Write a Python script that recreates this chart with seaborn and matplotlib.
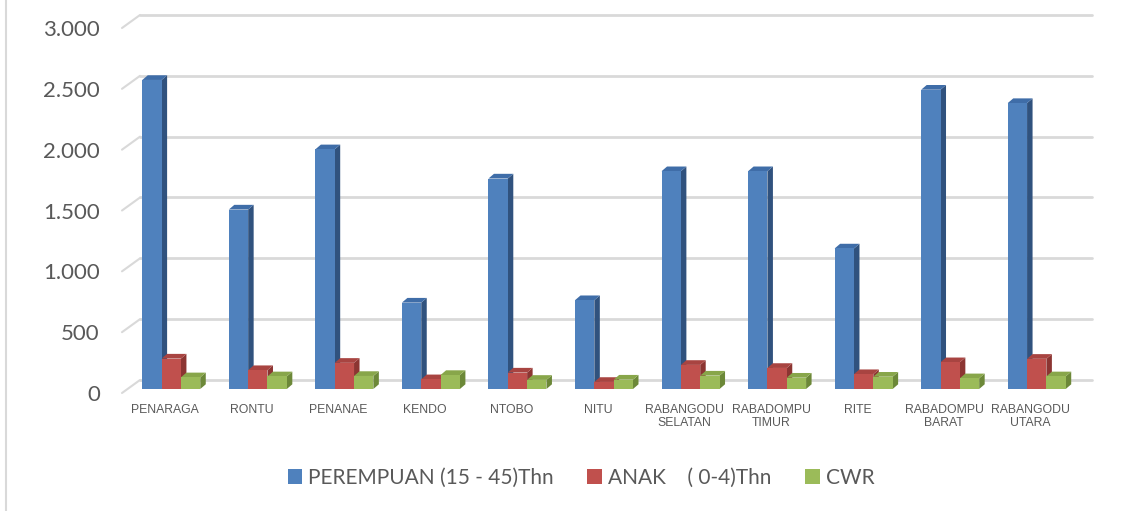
import numpy as np
import pandas as pd
import matplotlib
matplotlib.use("Agg")
import matplotlib.pyplot as plt
import seaborn as sns
from matplotlib.patches import Polygon
from matplotlib.lines import Line2D

# ---------------- data ----------------
categories = ["PENARAGA", "RONTU", "PENANAE", "KENDO", "NTOBO", "NITU",
              "RABANGODU\nSELATAN", "RABADOMPU\nTIMUR", "RITE",
              "RABADOMPU\nBARAT", "RABANGODU\nUTARA"]
perempuan = [2540, 1475, 1970, 710, 1730, 730, 1790, 1790, 1155, 2460, 2350]
anak = [250, 155, 215, 80, 135, 58, 198, 173, 122, 220, 248]
cwr = [96, 104, 107, 115, 75, 77, 110, 93, 101, 88, 104]
series_names = ["PEREMPUAN (15 - 45)Thn", "ANAK    ( 0-4)Thn", "CWR"]
y_ticks = [0, 500, 1000, 1500, 2000, 2500, 3000]

front_colors = ["#4F81BD", "#C0504D", "#9BBB59"]
side_colors = ["#30527E", "#8C3532", "#6C8838"]
top_colors = ["#3F6DA8", "#A84441", "#88A64A"]

df = pd.DataFrame({
    "cat": categories * 3,
    "val": perempuan + anak + cwr,
    "series": [series_names[0]] * len(categories)
              + [series_names[1]] * len(categories)
              + [series_names[2]] * len(categories),
})

sns.set_style("white")
plt.rcParams["font.family"] = ["Lato", "DejaVu Sans"]

W, H = 1136, 511
fig = plt.figure(figsize=(W / 100, H / 100), dpi=100)
fig.patch.set_facecolor("white")
ax_left, ax_right, ax_bottom, ax_top = 122, 1074, 393, 28
ax = fig.add_axes([ax_left / W, 1 - ax_bottom / H,
                   (ax_right - ax_left) / W, (ax_bottom - ax_top) / H])

sns.barplot(data=df, x="cat", y="val", hue="series", order=categories,
            hue_order=series_names, palette=front_colors, saturation=1,
            width=0.67, ax=ax, linewidth=0, legend=True)
ax.set_xlim(-0.5, len(categories) - 0.5)
ax.set_ylim(0, 3000)
ax.set_xlabel("")
ax.set_ylabel("")
for s in ax.spines.values():
    s.set_visible(False)
ax.grid(False)

# pixel -> data conversions
p0 = ax.transData.transform((0, 0))
sx = ax.transData.transform((1, 0))[0] - p0[0]
sy = (ax.transData.transform((0, 1000))[1] - p0[1]) / 1000.0

# back-plane gridlines (3D look)
back_dx, back_dy = 18 / sx, 13 / sy
xl, xr = -0.5, len(categories) - 0.5
grid_col = "#D9D9D9"
for yv in y_ticks:
    ax.add_line(Line2D([xl + back_dx, xr + back_dx], [yv + back_dy, yv + back_dy],
                       color=grid_col, lw=2, zorder=0.5, clip_on=False))
    ax.add_line(Line2D([xl, xl + back_dx], [yv, yv + back_dy],
                       color=grid_col, lw=1.5, zorder=0.5, clip_on=False))

# 3D bars
off_dx, off_dy = 6 / sx, 4 / sy
ddx, ddy = 5.5 / sx, 4.7 / sy
bars = []
for k, cont in enumerate(ax.containers[:3]):
    for p in cont.patches:
        bars.append((p.get_x(), k, p))
bars.sort(key=lambda t: t[0])
for i, (_, k, p) in enumerate(bars):
    x0 = p.get_x() + off_dx
    w = p.get_width()
    h = p.get_height()
    yb = off_dy
    p.set_x(x0)
    p.set_y(yb)
    p.set_clip_on(False)
    z = 2 + i * 0.01
    p.set_zorder(z + 0.005)
    x1 = x0 + w
    side = Polygon([(x1, yb), (x1 + ddx, yb + ddy), (x1 + ddx, yb + h + ddy), (x1, yb + h)],
                   closed=True, facecolor=side_colors[k], edgecolor="none",
                   zorder=z, clip_on=False)
    top = Polygon([(x0, yb + h), (x1, yb + h), (x1 + ddx, yb + h + ddy), (x0 + ddx, yb + h + ddy)],
                  closed=True, facecolor=top_colors[k], edgecolor="none",
                  zorder=z, clip_on=False)
    ax.add_patch(side)
    ax.add_patch(top)

# ticks
ax.set_yticks(y_ticks)
ax.set_yticklabels([f"{v:,.0f}".replace(",", ".") for v in y_ticks])
ax.tick_params(axis="y", length=0, pad=16, labelsize=16, labelcolor="#595959")
ax.tick_params(axis="x", length=0, pad=8, labelcolor="#595959")
for lab in ax.get_xticklabels():
    lab.set_fontfamily(["Liberation Sans", "DejaVu Sans"])
    lab.set_fontsize(8.8)
    lab.set_linespacing(1.15)

# legend
handles, labels = ax.get_legend_handles_labels()
if ax.get_legend() is not None:
    ax.get_legend().remove()
fig.legend(handles, labels, loc="center", bbox_to_anchor=(581 / W, 1 - 478 / H),
           ncol=3, frameon=False, fontsize=15, handlelength=0.7, handleheight=0.7,
           handletextpad=0.3, columnspacing=1.6, labelcolor="#595959")

# chart border (left edge visible)
fig.add_artist(Line2D([6 / W, 6 / W], [0, 1], transform=fig.transFigure,
                      color="#D9D9D9", lw=1.5))

fig.savefig("out.png", dpi=100, facecolor="white")
